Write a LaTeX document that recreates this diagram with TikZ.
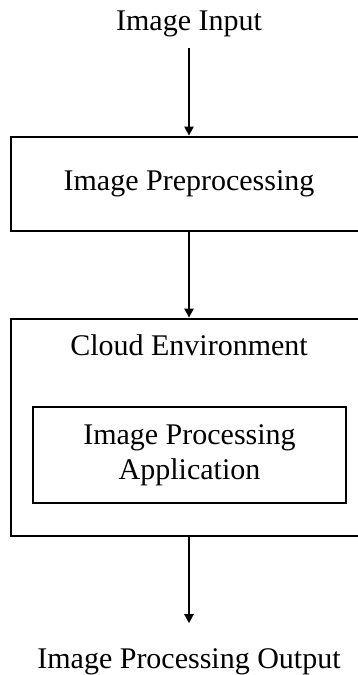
\documentclass[tikz,border=0pt]{standalone}
\usepackage{fontspec}
\setmainfont{Liberation Serif}
\usetikzlibrary{arrows.meta}

\begin{document}
\begin{tikzpicture}[x=0.5pt, y=-0.5pt,
    font=\fontsize{15}{17.5}\selectfont,
    >={Triangle[length=4.5pt,width=4.5pt]},
    box/.style={draw, line width=1.4pt, inner sep=0pt},
    lbl/.style={anchor=base, inner sep=0pt},
    flow/.style={->, line width=1.1pt}]
    \useasboundingbox (0,0) rectangle (358,675);
    \node (A0_0) [lbl] at (189, 30) {Image Input};
    \node (A1_0) [box, minimum width=178pt, minimum height=47pt] at (189, 184) {Image Preprocessing};
    \node (A2_0) [box, minimum width=178pt, minimum height=108.5pt] at (189, 427.5) {};
    \node (A2_1) [lbl] at (189, 355) {Cloud Environment};
    \node (A3_0) [box, align=center, minimum width=156.5pt, minimum height=48pt] at (189.5, 455) {Image Processing\\Application};
    \node (A4_0) [lbl] at (189, 668) {Image Processing Output};
    \path (A0_0) edge [flow, shorten <=5.75pt] (A1_0);
    \path (A1_0) edge [flow] (A2_0);
    \path (A2_0) edge [flow, shorten >=12.25pt] (A4_0);
  \end{tikzpicture}
\end{document}
